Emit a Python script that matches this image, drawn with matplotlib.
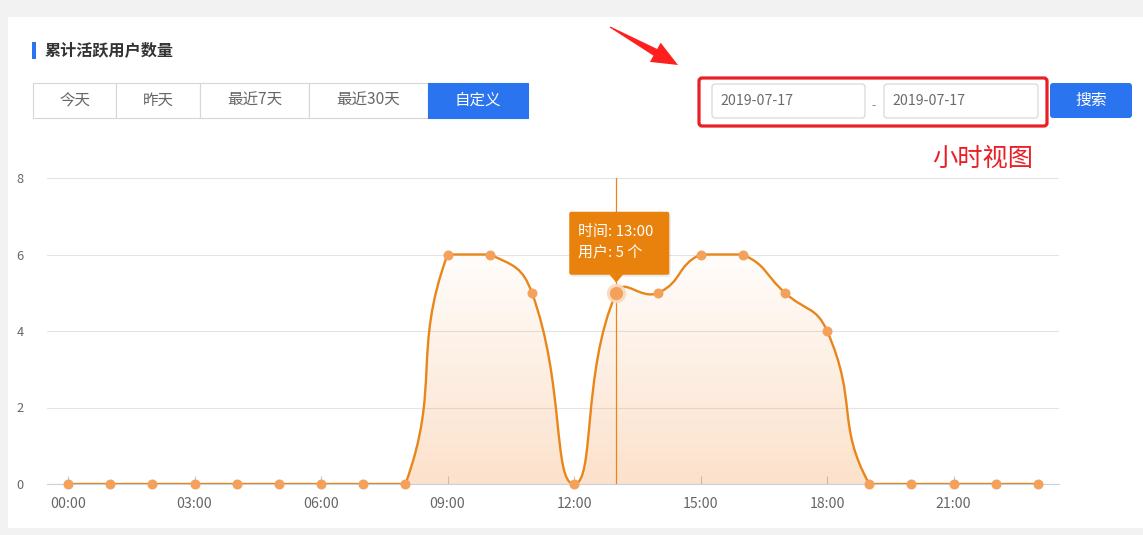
import numpy as np
import matplotlib
matplotlib.use("Agg")
import matplotlib.pyplot as plt
from matplotlib.path import Path
from matplotlib.patches import Rectangle, FancyBboxPatch, Polygon, PathPatch

plt.rcParams["font.family"] = ["Noto Sans CJK SC", "DejaVu Sans"]

# ---- data -------------------------------------------------------------
hours = ["00:00", "01:00", "02:00", "03:00", "04:00", "05:00", "06:00", "07:00",
         "08:00", "09:00", "10:00", "11:00", "12:00", "13:00", "14:00", "15:00",
         "16:00", "17:00", "18:00", "19:00", "20:00", "21:00", "22:00", "23:00"]
users = [0, 0, 0, 0, 0, 0, 0, 0, 0, 6, 6, 5, 0, 5, 5, 6, 6, 5, 4, 0, 0, 0, 0, 0]
y_ticks = [0, 2, 4, 6, 8]
tabs = ["今天", "昨天", "最近7天", "最近30天", "自定义"]
active_tab = "自定义"
date_start = "2019-07-17"
date_end = "2019-07-17"
focus_hour = "13:00"

title = "累计活跃用户数量"
search_label = "搜索"
view_note = "小时视图"

# ---- colours ----------------------------------------------------------
BLUE = "#2b74f0"
LINE = "#e8861a"
DOT = "#f4a15c"
TIP = "#e8820c"
RED = "#ea1f26"

W, H = 1143, 535
fig = plt.figure(figsize=(W / 100, H / 100), dpi=100)
fig.patch.set_facecolor("#f2f2f2")

# background / page widgets, in pixel coordinates
bg = fig.add_axes([0, 0, 1, 1], zorder=0)
bg.set_xlim(0, W)
bg.set_ylim(H, 0)
bg.axis("off")
bg.add_patch(Rectangle((8, 17), W - 8, 511, facecolor="white", edgecolor="none"))

# section title with accent bar
bg.add_patch(Rectangle((32, 42), 4, 17, facecolor=BLUE, edgecolor="none"))
bg.text(45, 50.5, title, fontsize=11.6, fontweight="bold", color="#333333",
        va="center", ha="left")

# tab group
edges = [33, 116, 200, 309, 428, 528]
ty0, ty1 = 83, 118
for i, lab in enumerate(tabs):
    x0, x1 = edges[i], edges[i + 1]
    active = lab == active_tab
    bg.add_patch(Rectangle((x0, ty0), x1 - x0, ty1 - ty0,
                           facecolor=BLUE if active else "white",
                           edgecolor=BLUE if active else "#d6d6d6", lw=0.8))
    bg.text((x0 + x1) / 2, (ty0 + ty1) / 2, lab, fontsize=11.2,
            color="white" if active else "#666666", ha="center", va="center")

# date inputs
for (x0, x1, txt) in [(712, 865, date_start), (884, 1038, date_end)]:
    bg.add_patch(FancyBboxPatch((x0, 84), x1 - x0, 34,
                                boxstyle="round,pad=0,rounding_size=3",
                                facecolor="white", edgecolor="#d4d4d4", lw=0.8))
    bg.text(x0 + 8, 101, txt, fontsize=10.2, color="#6b6b6b", ha="left", va="center")
bg.text(874, 106, "-", fontsize=9, color="#888888", ha="center", va="center")

# highlight box around the date range
bg.add_patch(FancyBboxPatch((699, 78), 348, 48,
                            boxstyle="round,pad=0,rounding_size=3",
                            facecolor="none", edgecolor=RED, lw=2.3))

# search button
bg.add_patch(FancyBboxPatch((1050, 83), 82, 35,
                            boxstyle="round,pad=0,rounding_size=3",
                            facecolor=BLUE, edgecolor="none"))
bg.text(1091, 100.5, search_label, fontsize=11.4, color="white",
        ha="center", va="center")

# note under the date range
bg.text(983, 159, view_note, fontsize=18.2, color=RED, ha="center", va="center")

# pointer arrow
tail = np.array([610.0, 27.0])
tip = np.array([678.0, 65.0])
u = (tip - tail) / np.linalg.norm(tip - tail)
n = np.array([-u[1], u[0]])
base = tip - u * 26
arrow = [tail + n * 0.6, base + n * 3.8, base + n * 11, tip,
         base - n * 11, base - n * 3.8, tail - n * 0.6]
bg.add_patch(Polygon(arrow, closed=True, facecolor="#ff1f1f", edgecolor="none"))

# ---- chart --------------------------------------------------------------
px0, py0, px1, py1 = 47, 178, 1059, 484
ax = fig.add_axes([px0 / W, (H - py1) / H, (px1 - px0) / W, (py1 - py0) / H], zorder=2)
ax.patch.set_alpha(0)
x = np.arange(len(users))
y = np.array(users, dtype=float)
ax.set_xlim(-0.5, len(users) - 0.5)
ax.set_ylim(y_ticks[0], y_ticks[-1])

sx = (px1 - px0) / len(users)          # pixels per category
sy = (py1 - py0) / (y_ticks[-1] - y_ticks[0])  # pixels per unit


def smooth_path(xs, ys, smooth=0.5):
    """Cubic Bezier through the points, control points constrained to the bbox."""
    P = np.column_stack([xs * sx, ys * sy])
    lo, hi = P.min(axis=0), P.max(axis=0)
    verts = [P[0]]
    codes = [Path.MOVETO]
    cp0 = P[0].copy()
    for i in range(1, len(P)):
        p = P[i]
        if i + 1 < len(P):
            v = P[i + 1] - P[i - 1]
            d0 = np.hypot(*(p - P[i - 1]))
            d1 = np.hypot(*(P[i + 1] - p))
            r = d1 / (d0 + d1)
            cp1 = p - v * smooth * (1 - r)
        else:
            v = np.zeros(2)
            r = 0.5
            cp1 = p.copy()
        cp0 = np.clip(cp0, lo, hi)
        cp1 = np.clip(cp1, lo, hi)
        verts += [cp0, cp1, p]
        codes += [Path.CURVE4] * 3
        cp0 = p + v * smooth * r
    verts = np.array(verts) / np.array([sx, sy])
    return verts, codes


cv, cc = smooth_path(x.astype(float), y)
curve = Path(cv, cc)
area = Path(np.vstack([cv, [[x[-1], 0], [x[0], 0], [x[0], 0]]]),
            cc + [Path.LINETO, Path.LINETO, Path.CLOSEPOLY])

# gradient area fill
ymax = y.max()
g = np.linspace(0, 1, 256)
img = np.zeros((256, 1, 4))
img[..., 0] = 0.96
img[..., 1] = 0.55
img[..., 2] = 0.22
img[:, 0, 3] = 0.26 - 0.24 * g
area_patch = PathPatch(area, facecolor="none", edgecolor="none")
ax.add_patch(area_patch)
im = ax.imshow(img, extent=(-0.5, len(users) - 0.5, 0, ymax), origin="lower",
               aspect="auto", zorder=1, interpolation="bilinear")
im.set_clip_path(area_patch)

# grid and axes
for s in ["top", "right", "left"]:
    ax.spines[s].set_visible(False)
ax.spines["bottom"].set_color("#c8d2df")
ax.spines["bottom"].set_linewidth(0.8)
ax.set_yticks(y_ticks)
ax.set_yticklabels([str(t) for t in y_ticks])
ax.yaxis.grid(True, color="#e4e4e4", lw=0.8)
ax.set_axisbelow(True)
ax.tick_params(axis="y", length=0, pad=17, labelsize=9.2, labelcolor="#666666")
ax.set_xticks(x[::3])
ax.set_xticklabels(hours[::3])
ax.tick_params(axis="x", direction="in", length=6, width=0.8, color="#c8c8c8",
               pad=9, labelsize=10.2, labelcolor="#666666")

# focus pointer line
fi = hours.index(focus_hour)
fv = users[fi]
ax.axvline(fi, color=LINE, lw=0.9, zorder=2)

# series line and markers
ax.add_patch(PathPatch(curve, facecolor="none", edgecolor=LINE, lw=1.7, zorder=3))
ax.plot(x, y, "o", ms=7.2, color=DOT, mec="none", zorder=4, clip_on=False)
ax.plot([fi], [fv], "o", ms=14, color="#fbd9bd", mec="none", zorder=4, alpha=0.9)
ax.plot([fi], [fv], "o", ms=9.5, color=DOT, mec="none", zorder=5)

# ---- tooltip ------------------------------------------------------------
top = fig.add_axes([0, 0, 1, 1], zorder=3)
top.set_xlim(0, W)
top.set_ylim(H, 0)
top.axis("off")
top.patch.set_alpha(0)
dx, dy = ax.transData.transform((fi, fv))
ox, oy = dx, H - dy
bw, bh = 100, 63
bx0 = ox - 47
by1 = oy - 18
by0 = by1 - bh
top.add_patch(FancyBboxPatch((bx0 + 1.5, by0 + 2), bw, bh,
                             boxstyle="round,pad=0,rounding_size=2",
                             facecolor="black", edgecolor="none", alpha=0.08))
top.add_patch(FancyBboxPatch((bx0, by0), bw, bh, boxstyle="round,pad=0,rounding_size=2",
                             facecolor=TIP, edgecolor="none"))
top.add_patch(Polygon([[ox - 7, by1 - 0.5], [ox + 7, by1 - 0.5], [ox, by1 + 8]],
                      closed=True, facecolor=TIP, edgecolor="none"))
top.text(bx0 + 9, by0 + 20, f"时间: {hours[fi]}", fontsize=10.8, color="white",
         ha="left", va="center")
top.text(bx0 + 9, by0 + 42, f"用户: {fv} 个", fontsize=10.8, color="white",
         ha="left", va="center")

fig.savefig("out.png", dpi=100)
